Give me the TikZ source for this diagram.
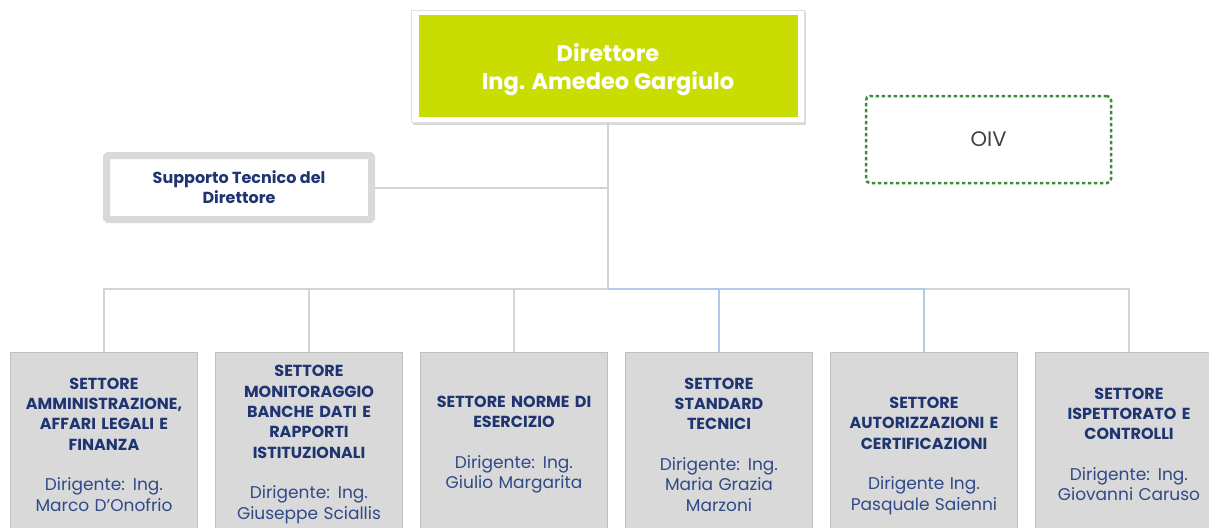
\documentclass[tikz,border=0pt]{standalone}
\usepackage{fontspec}
\setmainfont{Poppins}
\usetikzlibrary{shadows}

\definecolor{dirgreen}{HTML}{C9DD03}
\definecolor{navy}{HTML}{1F3572}
\definecolor{dirblue}{HTML}{2F4A88}
\definecolor{boxgray}{HTML}{D9D9D9}
\definecolor{boxline}{HTML}{BFBFBF}
\definecolor{linkgray}{HTML}{D4D4D4}
\definecolor{linkblue}{HTML}{B4C8EA}
\definecolor{oivgreen}{HTML}{3C8C3C}

\tikzset{
  dirframe/.style={fill=white,draw=gray!25,minimum width=393pt,minimum height=112pt,
    drop shadow={opacity=0.3,shadow xshift=1.5pt,shadow yshift=-2.5pt}},
  dirbox/.style={fill=dirgreen,minimum width=379pt,minimum height=102pt,inner sep=0pt},
  dirtext/.style={text=white,align=center,yshift=-4pt,
    font=\fontsize{22.5}{28}\selectfont\bfseries},
  supbox/.style={fill=white,draw=boxgray,line width=7pt,rounded corners=1.5pt,
    minimum width=265pt,minimum height=64pt,inner sep=0pt,text=navy,align=center,
    font=\fontsize{16}{20}\selectfont\bfseries},
  oivbox/.style={draw=oivgreen,line width=2.5pt,dash pattern=on 3.5pt off 2.5pt,
    rounded corners=4pt,minimum width=245pt,minimum height=87pt,text=darkgray,
    font=\fontsize{21}{24}\selectfont},
  sector/.style={fill=boxgray,draw=boxline,line width=1pt,minimum width=187pt,
    minimum height=184pt,text width=184pt,inner sep=0pt,align=center,
    font=\fontsize{16}{20.3}\selectfont},
  link/.style={draw=linkgray,line width=2pt},
  linkb/.style={draw=linkblue,line width=2pt}
}

\newcommand{\settore}[2]{{\color{navy}\bfseries #1}\\[20.3pt]{\color{dirblue}\fontsize{17}{20.3}\selectfont #2}}

\begin{document}
\begin{tikzpicture}[x=1pt,y=-1pt]
\useasboundingbox (0,0) rectangle (1209,527);

\node[dirframe] (dirframe) at (608,66) {};
\node[dirbox,label={[dirtext]center:Direttore\\Ing. Amedeo Gargiulo}] (dir) at (608,66) {};
\node[supbox] (sup) at (239,187.5) {Supporto Tecnico del\\Direttore};
\node[oivbox] (oiv) at (988.5,139.5) {OIV};

\node[sector] (s1) at (104,444.5) {\settore{SETTORE\\AMMINISTRAZIONE,\\AFFARI LEGALI E\\FINANZA}{Dirigente: Ing.\\Marco D’Onofrio}};
\node[sector] (s2) at (309,444.5) {\settore{SETTORE\\MONITORAGGIO\\BANCHE DATI E\\RAPPORTI\\ISTITUZIONALI}{Dirigente: Ing.\\Giuseppe Sciallis}};
\node[sector] (s3) at (514,444.5) {\settore{SETTORE NORME DI\\ESERCIZIO}{Dirigente: Ing.\\Giulio Margarita}};
\node[sector] (s4) at (719,444.5) {\settore{SETTORE\\STANDARD\\TECNICI}{Dirigente: Ing.\\Maria Grazia\\Marzoni}};
\node[sector] (s5) at (924,444.5) {\mbox{}\\[14pt]\settore{SETTORE\\AUTORIZZAZIONI E\\CERTIFICAZIONI}{Dirigente Ing.\\Pasquale Saienni}};
\node[sector] (s6) at (1129,444.5) {\settore{SETTORE\\ISPETTORATO E\\CONTROLLI}{Dirigente: Ing.\\Giovanni Caruso}};

\coordinate (bus) at (608,289);
\draw[link] (dirframe.south) -- (bus);
\draw[link] (sup.east) -- (sup.east -| bus);
\foreach \s in {s1,s2,s3,s6}
  \draw[link] (bus) -| (\s.north);
\foreach \s in {s4,s5}
  \draw[linkb] (bus) -| (\s.north);

\end{tikzpicture}
\end{document}
